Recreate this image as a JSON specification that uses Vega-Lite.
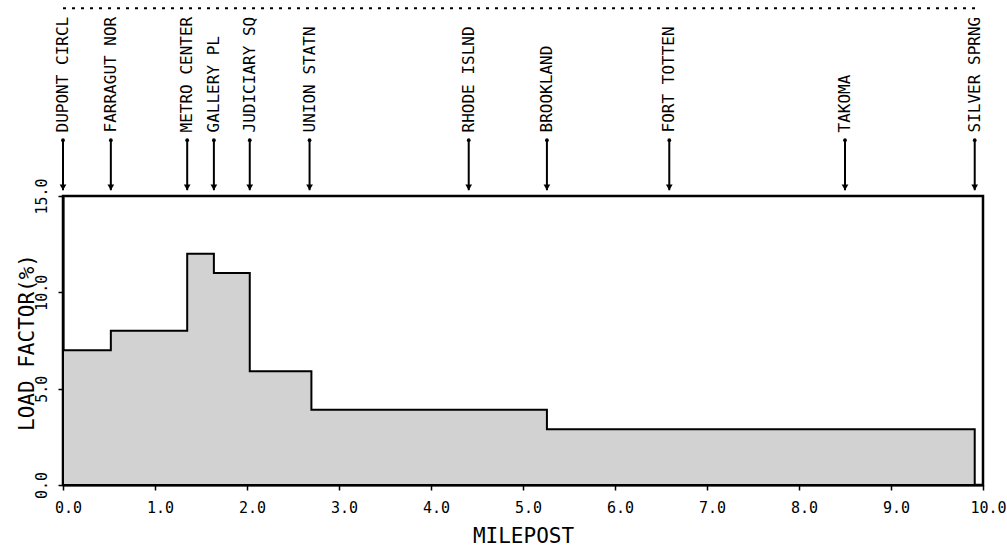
{
  "$schema": "https://vega.github.io/schema/vega-lite/v6.json",
  "autosize": {"type": "none"},
  "width": 920,
  "height": 289,
  "padding": {"left": 63, "top": 196, "right": 24, "bottom": 65},
  "background": "white",
  "config": {
    "view": {"stroke": "black", "strokeWidth": 2.5},
    "font": "DejaVu Sans Mono",
    "axis": {"grid": false, "domainColor": "black", "domainWidth": 2, "tickColor": "black", "tickWidth": 1.5, "labelColor": "black", "titleColor": "black", "labelFont": "DejaVu Sans Mono", "titleFont": "DejaVu Sans Mono", "titleFontWeight": "normal"}
  },
  "datasets": {
    "load": [
      {"milepost": 0.0, "load": 7.0},
      {"milepost": 0.52, "load": 8.0},
      {"milepost": 1.35, "load": 12.0},
      {"milepost": 1.64, "load": 11.0},
      {"milepost": 2.03, "load": 5.9},
      {"milepost": 2.70, "load": 3.9},
      {"milepost": 5.26, "load": 2.9},
      {"milepost": 9.91, "load": 2.9}
    ],
    "stations": [
      {"station": "DUPONT CIRCL", "milepost": 0.0},
      {"station": "FARRAGUT NOR", "milepost": 0.52},
      {"station": "METRO CENTER", "milepost": 1.35},
      {"station": "GALLERY PL", "milepost": 1.64},
      {"station": "JUDICIARY SQ", "milepost": 2.03},
      {"station": "UNION STATN", "milepost": 2.68},
      {"station": "RHODE ISLND", "milepost": 4.41},
      {"station": "BROOKLAND", "milepost": 5.26},
      {"station": "FORT TOTTEN", "milepost": 6.59},
      {"station": "TAKOMA", "milepost": 8.50},
      {"station": "SILVER SPRNG", "milepost": 9.91}
    ]
  },
  "layer": [
    {
      "data": {"name": "load"},
      "mark": {"type": "area", "interpolate": "step-after", "fill": "#d2d2d2", "stroke": "black", "strokeWidth": 2, "clip": false},
      "encoding": {
        "x": {"field": "milepost", "type": "quantitative", "scale": {"domain": [0, 10], "nice": false, "zero": false},
          "axis": {"title": "MILEPOST", "values": [0,1,2,3,4,5,6,7,8,9,10], "format": ".1f", "labelFontSize": 15, "labelOffset": 5, "tickSize": 5, "labelPadding": 10, "labelBaseline": "top", "labelFlush": false, "titleFontSize": 21, "titleY": 40, "titleBaseline": "top"}},
        "y": {"field": "load", "type": "quantitative", "scale": {"domain": [0, 15], "nice": false},
          "axis": {"title": "LOAD FACTOR(%)", "values": [0, 5, 10, 15], "format": ".1f", "labelFontSize": 15, "labelAngle": 270, "labelAlign": "center", "labelBaseline": "alphabetic", "tickSize": 5, "labelPadding": 12, "labelFlush": false, "titleFontSize": 21, "titleAngle": 270, "titleX": -30, "titleY": 146, "titleAlign": "center", "titleBaseline": "alphabetic"}}
      }
    },
    {
      "data": {"name": "stations"},
      "mark": {"type": "rule", "color": "black", "strokeWidth": 2},
      "encoding": {
        "x": {"field": "milepost", "type": "quantitative"},
        "y": {"datum": 15.3, "type": "quantitative"},
        "y2": {"datum": 17.9}
      }
    },
    {
      "data": {"name": "stations"},
      "mark": {"type": "point", "shape": "triangle-down", "filled": true, "color": "black", "size": 45, "opacity": 1},
      "encoding": {
        "x": {"field": "milepost", "type": "quantitative"},
        "y": {"datum": 15.45, "type": "quantitative"}
      }
    },
    {
      "data": {"name": "stations"},
      "mark": {"type": "point", "shape": "circle", "filled": true, "color": "black", "size": 14, "opacity": 1},
      "encoding": {
        "x": {"field": "milepost", "type": "quantitative"},
        "y": {"datum": 17.9, "type": "quantitative"}
      }
    },
    {
      "data": {"name": "stations"},
      "mark": {"type": "text", "angle": 270, "align": "left", "baseline": "middle", "fontSize": 16, "font": "DejaVu Sans Mono", "color": "black"},
      "encoding": {
        "x": {"field": "milepost", "type": "quantitative"},
        "y": {"datum": 18.3, "type": "quantitative"},
        "text": {"field": "station"}
      }
    },
    {
      "data": {"values": [{"line": "top"}]},
      "mark": {"type": "rule", "color": "black", "strokeWidth": 2, "strokeDash": [3, 6]},
      "encoding": {
        "x": {"datum": 0, "type": "quantitative"},
        "x2": {"datum": 9.95},
        "y": {"datum": 24.75, "type": "quantitative"}
      }
    }
  ]
}
